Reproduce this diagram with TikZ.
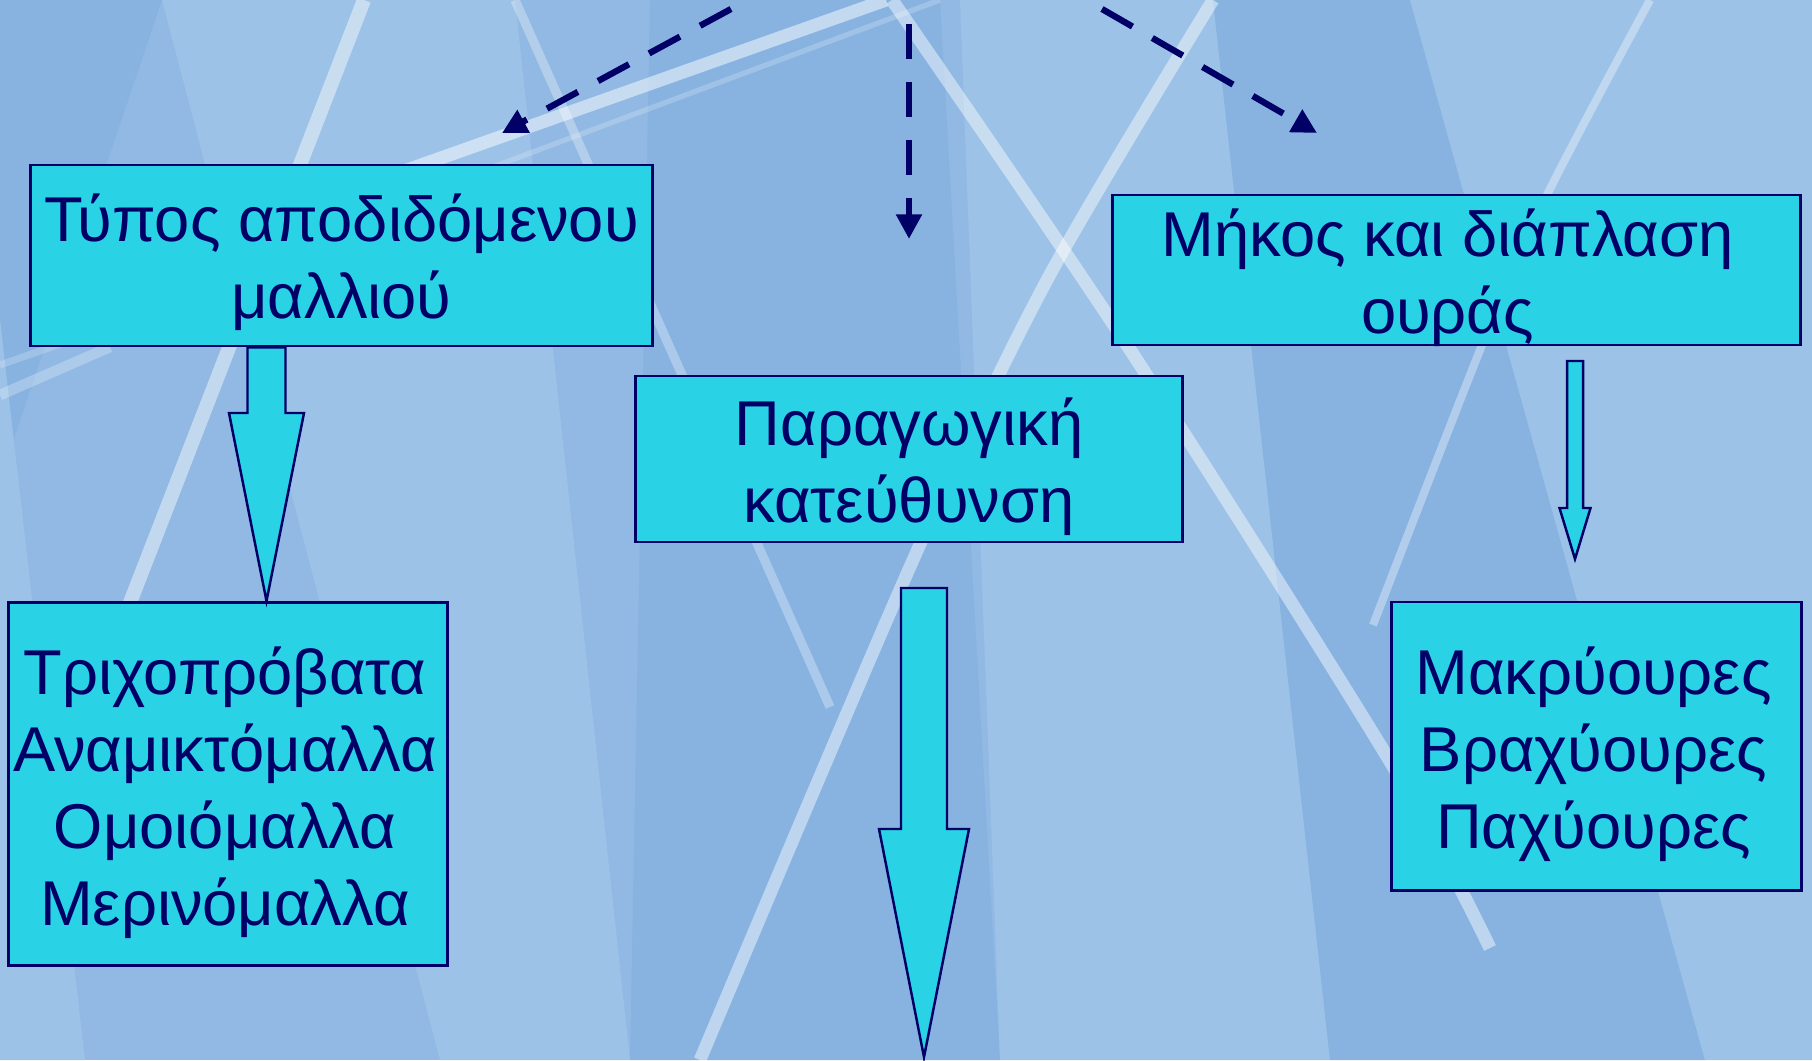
\documentclass[tikz,border=0pt]{standalone}
\usepackage{fontspec}
\setmainfont{Liberation Sans}
\usepackage{tikz}
\usetikzlibrary{calc,arrows.meta}
\definecolor{navyline}{RGB}{0,0,102}
\definecolor{boxcyan}{RGB}{41,210,228}
\definecolor{bgmid}{RGB}{145,185,227}
\definecolor{bglight}{RGB}{157,194,231}
\definecolor{bgdark}{RGB}{136,179,225}
\newcommand{\blkarrow}[5]{\draw[blkarr] ($(#1)+(-#3,0)$) -- ($(#2)+(-#3,-#5)$) -- ($(#2)+(-#4,-#5)$) -- (#2) -- ($(#2)+(#4,-#5)$) -- ($(#2)+(#3,-#5)$) -- ($(#1)+(#3,0)$) -- cycle;}

\begin{document}
\begin{tikzpicture}[x=0.01cm,y=-0.01cm,
	greekbox/.style={draw=navyline, line width=0.8pt, fill=boxcyan, inner sep=0pt},
	boxtext/.style={text=navyline, align=center, inner sep=0pt, font=\fontsize{18}{21.9}\selectfont},
	dasharrow/.style={navyline, line width=1.8pt, dash pattern=on 10pt off 6.5pt, -{Triangle[length=7pt,width=7pt]}},
	blkarr/.style={draw=navyline, line width=0.7pt, fill=boxcyan, line join=miter},
	glassline/.style={white, line cap=butt}]
							\useasboundingbox (0,0) rectangle (1812,1060);
							\begin{scope}
							\clip (0,0) rectangle (1812,1060);
							\fill[bgmid] (0,0) rectangle (1812,1060);
							\fill[bgdark] (0,0) -- (162,0) -- (0,480) -- cycle;
							\fill[bglight] (162,0) -- (515,0) -- (630,1060) -- (440,1060) -- cycle;
							\fill[bgdark] (650,0) -- (940,0) -- (1000,1060) -- (630,1060) -- cycle;
							\fill[bglight] (960,0) -- (1213,0) -- (1330,1060) -- (1000,1060) -- cycle;
							\fill[bgdark] (1213,0) -- (1410,0) -- (1705,1060) -- (1330,1060) -- cycle;
							\fill[bglight] (1410,0) -- (1812,0) -- (1812,1060) -- (1705,1060) -- cycle;
							\fill[bglight] (0,320) -- (85,1060) -- (0,1060) -- cycle;
							\draw[glassline, opacity=0.5, line width=3.7pt] (886,0) -- (300,208);
							\draw[glassline, opacity=0.2, line width=1.5pt] (940,0) -- (300,239);
							\draw[glassline, opacity=0.25, line width=3pt] (0,395) -- (110,347);
							\draw[glassline, opacity=0.2, line width=2pt] (0,365) -- (100,330);
							\draw[glassline, opacity=0.3, line width=2.6pt] (515,0) -- (830,707);
							\draw[glassline, opacity=0.45, line width=3.7pt] plot[smooth] coordinates {(892,0) (1127,345) (1391,763) (1490,948)};
							\draw[glassline, opacity=0.45, line width=3.6pt] plot[smooth] coordinates {(1213,0) (1047,280) (913,560) (700,1060)};
							\draw[glassline, opacity=0.45, line width=4pt] (364,0) -- (100,680);
							\draw[glassline, opacity=0.35, line width=2.3pt] plot[smooth] coordinates {(1650,0) (1547,195) (1482,345) (1373,625)};
							\end{scope}
							
							\node[greekbox, minimum width=6.21cm, minimum height=1.81cm] (wool) at (341.5,255.5) {};
							\node[greekbox, minimum width=5.46cm, minimum height=1.66cm] (prod) at (909,459) {};
							\node[greekbox, minimum width=6.87cm, minimum height=1.50cm] (tail) at (1456.5,270) {};
							\node[greekbox, minimum width=4.39cm, minimum height=3.63cm] (woolkinds) at (228,784) {};
							\node[greekbox, minimum width=4.09cm, minimum height=2.88cm] (tailkinds) at (1596.5,746) {};
							\node[boxtext] (woollbl) at ($(wool.center)+(0,7)$) {Τύπος αποδιδόμενου\\μαλλιού};
							\node[boxtext] (prodlbl) at ($(prod.center)+(0,8)$) {Παραγωγική\\κατεύθυνση};
							\node[boxtext] (taillbl) at ($(tail.center)+(-9,8)$) {Μήκος και διάπλαση\\ουράς};
							\node[boxtext] (woolkindslbl) at ($(woolkinds.center)+(-3,9)$) {Τριχοπρόβατα\\Αναμικτόμαλλα\\Ομοιόμαλλα\\Μερινόμαλλα};
							\node[boxtext] (tailkindslbl) at ($(tailkinds.center)+(-3,8)$) {Μακρύουρες\\Βραχύουρες\\Παχύουρες};
							
							\coordinate (d1s) at (731,9);
							\coordinate (d1e) at (502,133);
							\coordinate (d2s) at (909,24);
							\coordinate (d2e) at (909,239);
							\coordinate (d3s) at (1102,9);
							\coordinate (d3e) at (1317,133);
							\draw[dasharrow] (d1s) -- (d1e);
							\draw[dasharrow] (d2s) -- (d2e);
							\draw[dasharrow] (d3s) -- (d3e);
							
							\coordinate (b1top) at (wool.south -| 266.5,0);
							\coordinate (b1tip) at (woolkinds.north -| 266.5,0);
							\blkarrow{b1top}{b1tip}{19}{37.5}{188}
							\coordinate (b2top) at (924,588);
							\coordinate (b2tip) at (924,1057);
							\blkarrow{b2top}{b2tip}{23}{45}{228}
							\coordinate (b3top) at (1575,361);
							\coordinate (b3tip) at (1575,559);
							\blkarrow{b3top}{b3tip}{8}{15.5}{51}
					\end{tikzpicture}
\end{document}
